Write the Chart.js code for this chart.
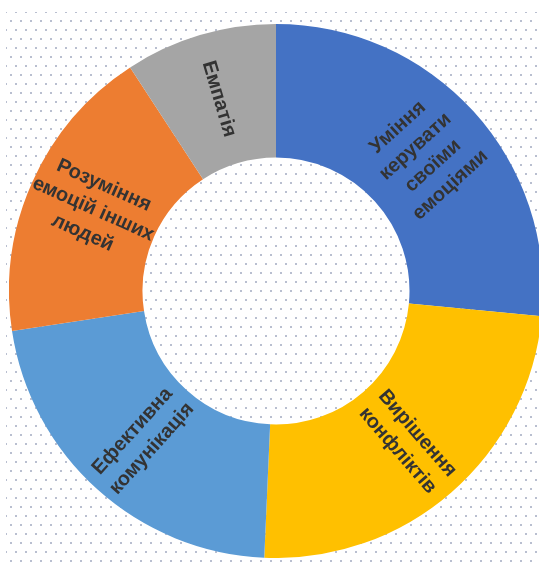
<!DOCTYPE html>
<html>
<head>
<meta charset="utf-8">
<script src="https://cdn.jsdelivr.net/npm/chart.js@4/dist/chart.umd.min.js"></script>
<style>
  html, body { margin: 0; padding: 0; background: #fff; overflow: hidden; }
  body { width: 539px; height: 562px; position: relative; }
  #dots {
    position: absolute; left: 6px; top: 12px; width: 533px; height: 550px;
    background-image:
      radial-gradient(circle, #b9bfd0 0.9px, rgba(255,255,255,0) 1.4px),
      radial-gradient(circle, #b9bfd0 0.9px, rgba(255,255,255,0) 1.4px);
    background-size: 10px 18px, 10px 18px;
    background-position: 0 0, 5px 9px;
  }
  #chart { position: absolute; left: 9px; top: 24px; }
</style>
</head>
<body>
<div id="dots"></div>
<canvas id="chart" width="534" height="534"></canvas>
<script>
// segments, clockwise from 12 o'clock
const categories = [
  ["Уміння", "керувати", "своїми", "емоціями"],
  ["Вирішення", "конфліктів"],
  ["Ефективна", "комунікація"],
  ["Розуміння", "емоцій інших", "людей"],
  ["Емпатія"],
];
const shares = [26.5, 24.2, 21.9, 18.2, 9.2];
const colors = ["#4472c4", "#ffc000", "#5b9bd5", "#ed7d31", "#a5a5a5"];

const LABEL_FONT = "bold 20px 'Liberation Sans', Arial, sans-serif";
const LINE_H = 26;

// radial labels, flipped so they never read upside down
const radialLabels = {
  id: "radialLabels",
  afterDatasetsDraw(chart) {
    const ctx = chart.ctx;
    const meta = chart.getDatasetMeta(0);
    meta.data.forEach((arc, i) => {
      const p = arc.getProps(["x", "y", "startAngle", "endAngle", "innerRadius", "outerRadius"], true);
      const mid = (p.startAngle + p.endAngle) / 2;
      const r = (p.innerRadius + p.outerRadius) / 2;
      let rot = mid;
      if (Math.cos(mid) < 0) rot += Math.PI;
      const lines = categories[i];
      ctx.save();
      ctx.translate(p.x + Math.cos(mid) * r, p.y + Math.sin(mid) * r);
      ctx.rotate(rot);
      ctx.font = LABEL_FONT;
      ctx.fillStyle = "#333333";
      ctx.textAlign = "center";
      ctx.textBaseline = "middle";
      lines.forEach((t, k) => {
        ctx.fillText(t, 0, (k - (lines.length - 1) / 2) * LINE_H);
      });
      ctx.restore();
    });
  },
};

new Chart(document.getElementById("chart"), {
  type: "doughnut",
  data: {
    labels: categories.map(c => c.join(" ")),
    datasets: [{
      data: shares,
      backgroundColor: colors,
      borderWidth: 0,
    }],
  },
  options: {
    responsive: false,
    animation: false,
    devicePixelRatio: 1,
    cutout: "50%",
    layout: { padding: 0 },
    plugins: {
      legend: { display: false },
      tooltip: { enabled: false },
    },
  },
  plugins: [radialLabels],
});
</script>
</body>
</html>
